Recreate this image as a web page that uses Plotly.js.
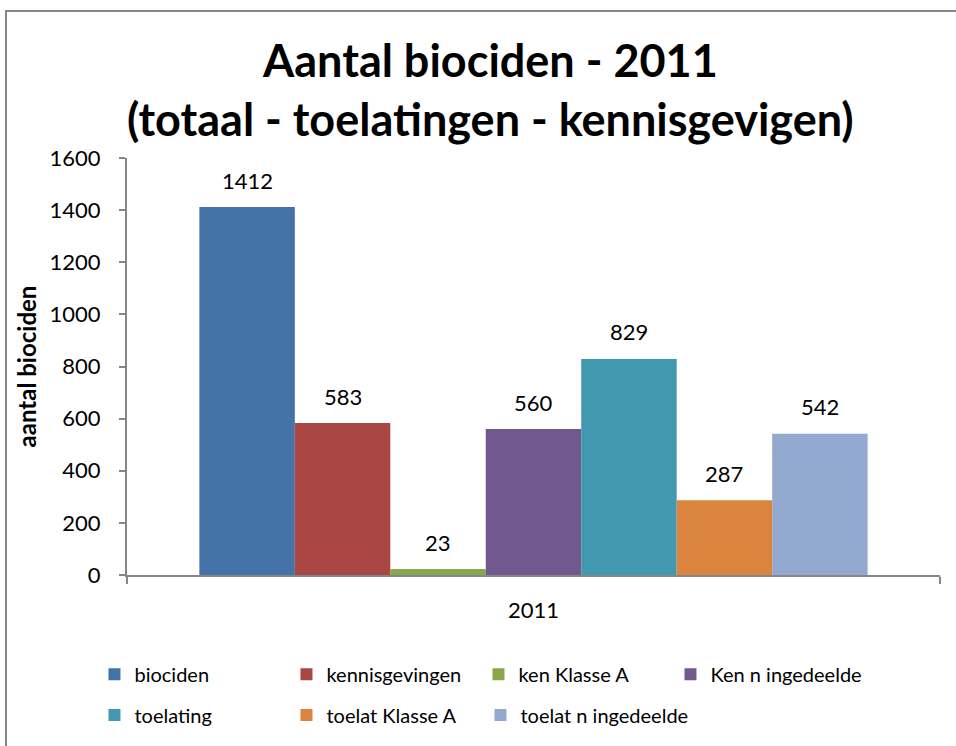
<!DOCTYPE html>
<html>
<head>
<meta charset="utf-8">
<script src="https://cdn.plot.ly/plotly-3.0.1.min.js"></script>
<style>
html,body{margin:0;padding:0;background:#fff;}
#chart{width:956px;height:746px;}
</style>
</head>
<body>
<div id="chart"></div>
<script>
var categories = ['2011'];
var seriesNames = ['biociden','kennisgevingen','ken Klasse A','Ken n ingedeelde','toelating','toelat Klasse A','toelat n ingedeelde'];
var seriesValues = [1412, 583, 23, 560, 829, 287, 542];
var seriesColors = ['#4572A7','#AA4643','#89A54E','#71588F','#4198AF','#DB843D','#93A9CF'];
var seriesLegends = ['legend','legend','legend','legend','legend2','legend2','legend3'];
var yTickValues = [0,200,400,600,800,1000,1200,1400,1600];

var FONT = 'Lato, "Open Sans", sans-serif';
var bargap = 0.178;
var n = seriesNames.length;
var barW = (1 - bargap) / n;

var traces = seriesNames.map(function(name, i){
  return {
    type: 'bar',
    name: name,
    x: categories,
    y: [seriesValues[i]],
    marker: {color: seriesColors[i], line: {width: 0}},
    legend: seriesLegends[i],
    hoverinfo: 'name+y'
  };
});

var annotations = seriesValues.map(function(v, i){
  return {
    xref: 'x', yref: 'y',
    x: (i - (n - 1) / 2) * barW,
    y: v,
    yshift: 27,
    text: String(v),
    showarrow: false,
    font: {family: FONT, size: 22, color: '#000'}
  };
});

var legendCommon = {
  orientation: 'h', xanchor: 'left', yanchor: 'middle',
  entrywidth: 147, entrywidthmode: 'pixels',
  font: {family: FONT, size: 20, color: '#000'},
  bgcolor: 'rgba(0,0,0,0)', traceorder: 'normal'
};
var legX = -0.04;
var colStep = 193 / 813;
var row1Y = (578 - 678) / 420;
var row2Y = (578 - 719) / 420;

var layout = {
  width: 956, height: 746,
  margin: {l: 127, r: 16, t: 158, b: 168},
  paper_bgcolor: '#fff', plot_bgcolor: '#fff',
  font: {family: FONT, color: '#000'},
  barmode: 'group',
  bargap: bargap,
  bargroupgap: 0,
  title: {
    text: '<b>Aantal biociden - 2011</b><br><b>(totaal - toelatingen - kennisgevigen)</b>',
    font: {family: FONT, size: 45, color: '#000'},
    xref: 'container', x: 0.513, xanchor: 'center',
    yref: 'container', y: 1 - 77/746, yanchor: 'top'
  },
  xaxis: {
    type: 'category',
    range: [-0.5, 0.5],
    showline: true, linecolor: '#868686', linewidth: 2,
    ticks: 'outside', tickson: 'boundaries', ticklen: 7, tickcolor: '#868686', tickwidth: 2,
    tickfont: {family: FONT, size: 22, color: '#000'},
    ticklabelstandoff: 15,
    showgrid: false, zeroline: false, fixedrange: true
  },
  yaxis: {
    range: [0, 1600],
    tickvals: yTickValues,
    showline: true, linecolor: '#868686', linewidth: 2,
    ticks: 'outside', ticklen: 6, tickcolor: '#868686', tickwidth: 2,
    tickfont: {family: FONT, size: 22, color: '#000'},
    ticklabelstandoff: 14,
    showgrid: false, zeroline: false, fixedrange: true,
    title: {text: '<b>aantal biociden</b>', font: {family: FONT, size: 24, color: '#000'}, standoff: 6}
  },
  legend: Object.assign({}, legendCommon, {x: legX, y: row1Y}),
  legend2: Object.assign({}, legendCommon, {x: legX, y: row2Y}),
  legend3: Object.assign({}, legendCommon, {x: legX + 2 * colStep, y: row2Y, entrywidth: 200}),
  annotations: annotations,
  shapes: [{
    type: 'rect', xref: 'paper', yref: 'paper',
    x0: (6 - 127) / 813, x1: (1100 - 127) / 813,
    y0: (578 - 1000) / 420, y1: (578 - 10) / 420,
    line: {color: '#868686', width: 2}, fillcolor: 'rgba(0,0,0,0)', layer: 'above'
  }]
};

Plotly.newPlot('chart', traces, layout, {displayModeBar: false, staticPlot: true});
</script>
</body>
</html>
